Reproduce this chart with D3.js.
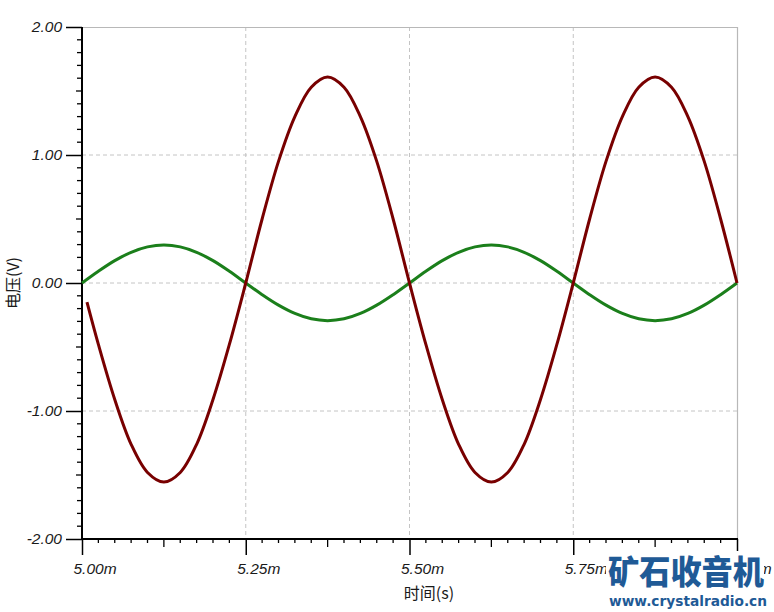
<!DOCTYPE html>
<html>
<head>
<meta charset="utf-8">
<script src="https://cdn.jsdelivr.net/npm/d3@7"></script>
<style>
  html, body { margin: 0; padding: 0; background: #fff; }
  svg { display: block; }
</style>
</head>
<body>
<svg id="chart" width="774" height="612"></svg>
<script>
// ---- data ----
const xTickValues = [5.00, 5.25, 5.50, 5.75, 6.00];
const xTickLabels = ["5.00m", "5.25m", "5.50m", "5.75m", "6.00m"];
const yTickValues = [2, 1, 0, -1, -2];
const yTickLabels = ["2.00", "1.00", "0.00", "-1.00", "-2.00"];

const greenTime = [5.000,5.025,5.050,5.075,5.100,5.125,5.150,5.175,5.200,5.225,5.250,
                   5.275,5.300,5.325,5.350,5.375,5.400,5.425,5.450,5.475,5.500,
                   5.525,5.550,5.575,5.600,5.625,5.650,5.675,5.700,5.725,5.750,
                   5.775,5.800,5.825,5.850,5.875,5.900,5.925,5.950,5.975,6.000];
const greenVolt = [0.000,0.092,0.175,0.240,0.282,0.297,0.282,0.240,0.175,0.092,0.000,
                   -0.091,-0.173,-0.238,-0.280,-0.294,-0.280,-0.238,-0.173,-0.091,0.000,
                   0.092,0.175,0.240,0.282,0.297,0.282,0.240,0.175,0.092,0.000,
                   -0.091,-0.173,-0.238,-0.280,-0.294,-0.280,-0.238,-0.173,-0.091,0.000];

const redTime = [5.0076,5.025,5.050,5.075,5.100,5.125,5.150,5.175,5.200,5.225,5.250,
                 5.275,5.300,5.325,5.350,5.375,5.400,5.425,5.450,5.475,5.500,
                 5.525,5.550,5.575,5.600,5.625,5.650,5.675,5.700,5.725,5.750,
                 5.775,5.800,5.825,5.850,5.875,5.900,5.925,5.950,5.975,6.000];
const redVolt = [-0.15,-0.48,-0.91,-1.26,-1.48,-1.555,-1.48,-1.26,-0.91,-0.48,0.00,
                 0.50,0.95,1.30,1.53,1.61,1.53,1.30,0.95,0.50,0.00,
                 -0.48,-0.91,-1.26,-1.48,-1.555,-1.48,-1.26,-0.91,-0.48,0.00,
                 0.50,0.95,1.30,1.53,1.61,1.53,1.30,0.95,0.50,0.00];

const xTitle = "时间(s)";
const yTitle = "电压(V)";
const wmMain = "矿石收音机";
const wmUrl = "www.crystalradio.cn";

// ---- layout ----
const L = 82, R = 737, T = 27, B = 539;
const svg = d3.select("#chart");
const x = d3.scaleLinear().domain([5.0, 6.0]).range([L, R]);
const y = d3.scaleLinear().domain([-2, 2]).range([B, T]);
const labelFont = "'Liberation Sans', Arial, sans-serif";

// grid
const grid = svg.append("g");
grid.selectAll("line.hg").data(yTickValues.filter(v => v !== 2 && v !== -2)).enter()
  .append("line").attr("x1", L).attr("x2", R).attr("y1", d => y(d)).attr("y2", d => y(d))
  .attr("stroke", "#c4c4c4").attr("stroke-width", 1).attr("stroke-dasharray", "4,3");
grid.selectAll("line.vg").data(xTickValues.filter(v => v !== 5.0 && v !== 6.0)).enter()
  .append("line").attr("y1", T).attr("y2", B).attr("x1", d => x(d)).attr("x2", d => x(d))
  .attr("stroke", "#c4c4c4").attr("stroke-width", 1).attr("stroke-dasharray", "4,3");
// top & right frame
svg.append("line").attr("x1", L).attr("x2", R).attr("y1", T + 0.5).attr("y2", T + 0.5)
  .attr("stroke", "#b8b8b8").attr("stroke-width", 1.2);
svg.append("line").attr("x1", R + 0.5).attr("x2", R + 0.5).attr("y1", T).attr("y2", B)
  .attr("stroke", "#b8b8b8").attr("stroke-width", 1.2);

// y axis: major ticks via d3 axis, minor ticks separately
const yMinor = d3.range(-20, 21).map(i => i / 10).filter(v => Math.abs(v * 10) % 10 !== 0);
const yAxis = d3.axisLeft(y).tickValues(yTickValues).tickSize(16).tickFormat((d, i) => yTickLabels[i]).tickPadding(4);
const gy = svg.append("g").attr("transform", `translate(${L},0)`).call(yAxis);
gy.select(".domain").remove();
gy.selectAll(".tick line").attr("stroke", "#000").attr("stroke-width", 1.5);
gy.selectAll(".tick text").attr("font-family", labelFont).attr("font-style", "italic")
  .attr("font-size", 15.5).attr("fill", "#1a1a1a");
gy.selectAll("line.minor").data(yMinor).enter().append("line")
  .attr("x1", d => (Math.abs(Math.round(d * 10)) % 5 === 0) ? -6 : -5).attr("x2", 0)
  .attr("y1", d => y(d)).attr("y2", d => y(d)).attr("stroke", "#000").attr("stroke-width", 1.3);
svg.append("line").attr("x1", L).attr("x2", L).attr("y1", T).attr("y2", B + 1)
  .attr("stroke", "#000").attr("stroke-width", 2);

// x axis
const xMinor = d3.range(0, 41).map(i => 5 + i * 0.025).filter((v, i) => i % 10 !== 0);
const xAxis = d3.axisBottom(x).tickValues(xTickValues).tickSize(16).tickFormat((d, i) => xTickLabels[i]).tickPadding(8);
const gx = svg.append("g").attr("transform", `translate(0,${B})`).call(xAxis);
gx.select(".domain").remove();
gx.selectAll(".tick line").attr("stroke", "#000").attr("stroke-width", 1.5);
gx.selectAll(".tick text").attr("font-family", labelFont).attr("font-style", "italic")
  .attr("font-size", 15.5).attr("fill", "#1a1a1a")
  .attr("text-anchor", "start").attr("x", -9);
gx.selectAll("line.minor").data(xMinor).enter().append("line")
  .attr("x1", d => x(d)).attr("x2", d => x(d)).attr("y1", 0)
  .attr("y2", (d, i) => (i % 9 === 4) ? 8 : 4).attr("stroke", "#000").attr("stroke-width", 1.3);
svg.append("line").attr("x1", L - 1).attr("x2", R + 1).attr("y1", B).attr("y2", B)
  .attr("stroke", "#000").attr("stroke-width", 2);

// series
const greenData = greenTime.map((t, i) => [t, greenVolt[i]]);
const redData = redTime.map((t, i) => [t, redVolt[i]]);
const line = d3.line().x(d => x(d[0])).y(d => y(d[1])).curve(d3.curveCatmullRom.alpha(0.5));
svg.append("path").datum(greenData).attr("d", line).attr("fill", "none")
  .attr("stroke", "#1b7f1b").attr("stroke-width", 3).attr("stroke-linejoin", "round");
svg.append("path").datum(redData).attr("d", line).attr("fill", "none")
  .attr("stroke", "#780000").attr("stroke-width", 3).attr("stroke-linejoin", "round");

// axis titles
svg.append("text").attr("transform", `translate(19,${(T + B) / 2}) rotate(-90)`)
  .attr("text-anchor", "middle").attr("font-family", "'Noto Sans CJK SC', sans-serif")
  .attr("font-size", 16).attr("fill", "#1a1a1a").text(yTitle);
svg.append("text").attr("x", 429).attr("y", 599)
  .attr("text-anchor", "middle").attr("font-family", "'Noto Sans CJK SC', sans-serif")
  .attr("font-size", 16).attr("fill", "#1a1a1a").text(xTitle);

// watermark
svg.append("rect").attr("x", 606).attr("y", 551).attr("width", 158).attr("height", 38).attr("fill", "#fff");
svg.append("text").attr("x", 608).attr("y", 584).attr("font-family", "'Noto Sans CJK SC', sans-serif")
  .attr("font-weight", 900).attr("font-size", 33).attr("fill", "#1f5a96")
  .attr("textLength", 156).attr("lengthAdjust", "spacingAndGlyphs").text(wmMain);
svg.append("text").attr("x", 609).attr("y", 606).attr("font-family", "'DejaVu Sans', sans-serif")
  .attr("font-weight", "bold").attr("font-size", 14).attr("fill", "#1f5a96")
  .attr("textLength", 158).attr("lengthAdjust", "spacingAndGlyphs").text(wmUrl);
</script>
</body>
</html>
